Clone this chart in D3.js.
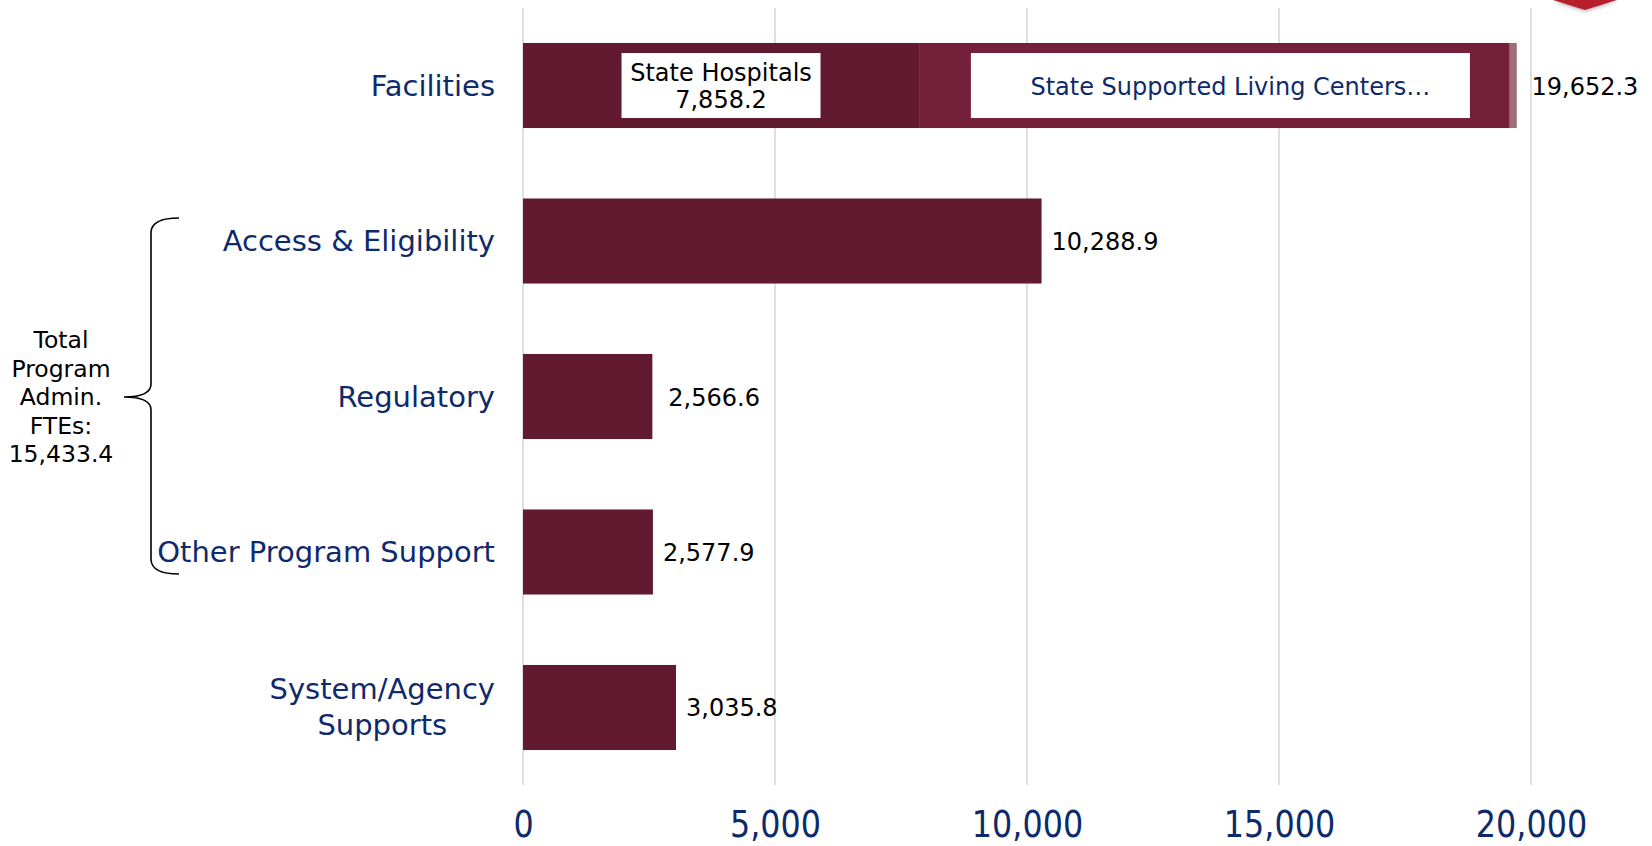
<!DOCTYPE html>
<html lang="en">
<head>
    <meta charset="utf-8">
    <title>FTEs by function</title>
    <script src="https://d3js.org/d3.v7.min.js" charset="utf-8"></script>
    <style>
        body { margin: 0; background: #fff; }
        text { font-family: "DejaVu Sans", Verdana, sans-serif; }
    </style>
</head>
<body>
<script>

// categories, top to bottom
var categories = ["Facilities", "Access & Eligibility", "Regulatory", "Other Program Support", "System/Agency Supports"]
var categoryLines = [["Facilities"], ["Access & Eligibility"], ["Regulatory"], ["Other Program Support"], ["System/Agency", "Supports"]]
var totals = [19652.3, 10288.9, 2566.6, 2577.9, 3035.8]

// the facilities bar is split in parts
var facilityParts = ["State Hospitals", "State Supported Living Centers", "Other"]
var facilityValues = [7858.2, 11720.0, 139.0]
var facilityLabels = [["State Hospitals", "7,858.2"], ["State Supported Living Centers\u2026"], []]

var xTicks = [0, 5000, 10000, 15000, 20000]
var bracketLines = ["Total", "Program", "Admin.", "FTEs:", "15,433.4"]

var w = 1652, h = 846
var navy = "#0e2a6b"
var barColor = "#611a2f"
var partColors = ["#611a2f", "#75203a", "#9f6e78"]

var svg = d3.select("body").append("svg").attr("width", w).attr("height", h)

var x = d3.scaleLinear().domain([0, 20000]).range([523, 1531])
var y = d3.scaleBand().domain(categories).range([8, 785]).paddingInner(0.453).paddingOuter(0.225)

// red marker peeking in at the top right
svg.append("polygon")
    .attr("points", "1553,0 1617,0 1585,10")
    .attr("fill", "#b71f2c")
    .style("filter", "drop-shadow(0px 1px 2px rgba(0,0,0,0.35))")

// gridlines
svg.append("g").selectAll("line").data(xTicks).join("line")
    .attr("x1", function(d){return x(d)}).attr("x2", function(d){return x(d)})
    .attr("y1", 8).attr("y2", 785)
    .attr("stroke", "#d9d9d9").attr("stroke-width", 1.6)

// x axis labels
var axis = svg.append("g").attr("transform", "translate(0,837)")
    .call(d3.axisBottom(x).tickValues(xTicks).tickSize(0).tickFormat(d3.format(",")))
axis.select(".domain").remove()
axis.selectAll("text")
    .attr("y", 0).attr("dy", 0)
    .attr("transform", "scale(0.86,1)")
    .attr("fill", navy)
    .style("font-family", "'DejaVu Sans', sans-serif")
    .style("font-size", "37px")

// plain bars (all but facilities)
var rest = categories.slice(1)
svg.append("g").selectAll("rect").data(rest).join("rect")
    .attr("x", x(0))
    .attr("y", function(d){return y(d)})
    .attr("width", function(d){return x(totals[categories.indexOf(d)]) - x(0)})
    .attr("height", y.bandwidth())
    .attr("fill", barColor)

// stacked facilities bar
var starts = []
var acc = 0
facilityValues.forEach(function(v){ starts.push(acc); acc += v })

svg.append("g").selectAll("rect").data(facilityValues).join("rect")
    .attr("x", function(d, i){return x(starts[i])})
    .attr("y", y("Facilities"))
    .attr("width", function(d){return x(d) - x(0)})
    .attr("height", y.bandwidth())
    .attr("fill", function(d, i){return partColors[i]})

// white label boxes in the facilities segments
var boxSizes = [[199, 65], [499, 65]]
facilityLabels.forEach(function(lines, i) {
    if (!lines.length) return
    var cx = x(starts[i] + facilityValues[i] / 2) + (i == 1 ? 6 : 0)
    var cy = y("Facilities") + y.bandwidth() / 2
    svg.append("rect")
        .attr("x", cx - boxSizes[i][0] / 2).attr("y", cy - boxSizes[i][1] / 2)
        .attr("width", boxSizes[i][0]).attr("height", boxSizes[i][1])
        .attr("fill", "#fff")
    var t = svg.append("text")
        .attr("text-anchor", "middle")
        .attr("fill", i == 0 ? "#000" : navy)
        .style("font-size", "24px")
    lines.forEach(function(l, j) {
        t.append("tspan").attr("x", cx + (i == 1 ? 10 : 0))
            .attr("y", cy + 9 + (j - (lines.length - 1) / 2) * 27)
            .text(l)
    })
})

// value labels at bar ends
var fmt = d3.format(",.1f")
svg.append("g").selectAll("text").data(categories).join("text")
    .attr("x", function(d, i){return x(totals[i]) + (i == 0 ? 18 : (i == 2 ? 16 : 10))})
    .attr("y", function(d){return y(d) + y.bandwidth() / 2 + 9})
    .attr("fill", "#000")
    .style("font-size", "24px")
    .text(function(d, i){return fmt(totals[i])})

// category labels, right aligned against the plot
categories.forEach(function(c, i) {
    var lines = categoryLines[i]
    var cy = y(c) + y.bandwidth() / 2
    var t = svg.append("text").attr("fill", navy).style("font-size", "29px")
    var spans = lines.map(function(l, j) {
        return t.append("tspan")
            .attr("y", cy + 10 + (j - (lines.length - 1) / 2) * 36)
            .text(l)
    })
    var widest = d3.max(spans, function(s){return s.node().getComputedTextLength()})
    t.attr("text-anchor", "middle")
    spans.forEach(function(s){ s.attr("x", 495 - widest / 2) })
})

// curly bracket for program admin rows
svg.append("path")
    .attr("d", "M179,218 Q152,218 151,232 L151,384 Q151,397 124,397 Q151,397 151,410 L151,560 Q152,574 179,574")
    .attr("fill", "none").attr("stroke", "#000").attr("stroke-width", 1.6)

var bt = svg.append("text").attr("text-anchor", "middle").attr("fill", "#000").style("font-size", "23.5px")
bracketLines.forEach(function(l, j) {
    bt.append("tspan").attr("x", 61).attr("y", 348 + j * 28.5).text(l)
})

</script>
</body>
</html>
